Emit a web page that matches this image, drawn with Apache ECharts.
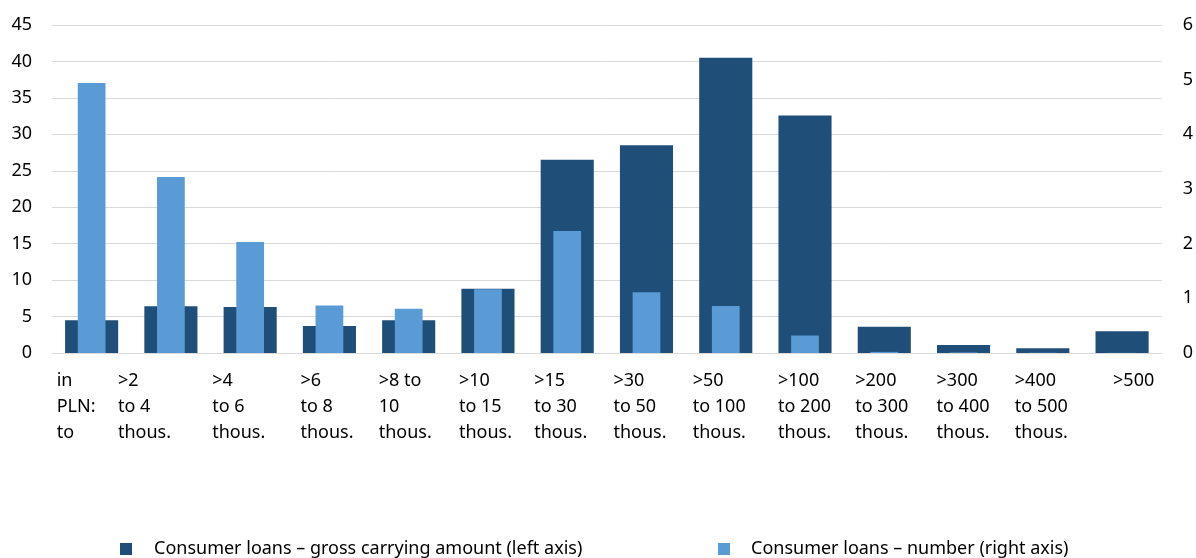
<!DOCTYPE html>
<html>
<head>
<meta charset="utf-8">
<script src="https://cdn.jsdelivr.net/npm/echarts@6/dist/echarts.min.js"></script>
<style>html,body{margin:0;padding:0;background:#fff;}#c{width:1196px;height:558px;}</style>
</head>
<body>
<div id="c"></div>
<script>
const categories = ['in\nPLN:\nto', '>2\nto 4\nthous.', '>4\nto 6\nthous.', '>6\nto 8\nthous.', '>8 to\n10\nthous.',
  '>10\nto 15\nthous.', '>15\nto 30\nthous.', '>30\nto 50\nthous.', '>50\nto 100\nthous.', '>100\nto 200\nthous.',
  '>200\nto 300\nthous.', '>300\nto 400\nthous.', '>400\nto 500\nthous.', '>500'];
const grossAmount = [4.5, 6.4, 6.3, 3.7, 4.5, 8.8, 26.5, 28.5, 40.5, 32.6, 3.6, 1.1, 0.65, 3.0];
const loanNumber = [4.94, 3.22, 2.03, 0.87, 0.81, 1.165, 2.23, 1.11, 0.86, 0.32, 0.02, 0.01, 0.005, 0.003];
const leftTicks = {min: 0, max: 45, interval: 5};
const rightTicks = {min: 0, max: 6, interval: 1};
const seriesNames = ['Consumer loans \u2013 gross carrying amount (left axis)', 'Consumer loans \u2013 number (right axis)'];

// layout: label left edge offset from category centre (px)
const labelShift = [35, 53, 38, 29, 30, 29, 33, 33, 33, 27, 29, 27, 28, 9];
const FONT = '"Noto Sans", sans-serif';
const FS = 18;
const rich = {};
labelShift.forEach((s, i) => {
  rich['c' + i] = {width: 2 * s, align: 'left', fontSize: FS, lineHeight: 26, color: '#000', fontFamily: FONT};
});

const chart = echarts.init(document.getElementById('c'));
chart.setOption({
  animation: false,
  textStyle: {fontFamily: FONT},
  grid: {left: 52, right: 33, top: 25, bottom: 205, containLabel: false},
  legend: [
    {data: [seriesNames[0]], left: 120, top: 540, itemWidth: 12, itemHeight: 12, icon: 'rect', padding: 0,
     textStyle: {fontSize: FS, color: '#000', padding: [0, 0, 0, 17], fontFamily: FONT}},
    {data: [seriesNames[1]], left: 718, top: 540, itemWidth: 12, itemHeight: 12, icon: 'rect', padding: 0,
     textStyle: {fontSize: FS, color: '#000', padding: [0, 0, 0, 16], fontFamily: FONT}}
  ],
  xAxis: [
    {type: 'category', data: categories, axisTick: {show: false}, axisLine: {show: false},
     axisLabel: {interval: 0, margin: 15, align: 'center', verticalAlign: 'top',
       formatter: (v, i) => '{c' + i + '|' + v + '}', rich: rich}},
    {type: 'category', data: categories, show: false}
  ],
  yAxis: [
    {type: 'value', min: leftTicks.min, max: leftTicks.max, interval: leftTicks.interval, position: 'left',
     axisLine: {show: false}, axisTick: {show: false},
     axisLabel: {fontSize: FS, color: '#000', margin: 20, fontFamily: FONT},
     splitLine: {lineStyle: {color: '#d9d9d9', width: 1}}},
    {type: 'value', min: rightTicks.min, max: rightTicks.max, interval: rightTicks.interval, position: 'right',
     axisLine: {show: false}, axisTick: {show: false},
     axisLabel: {fontSize: FS, color: '#000', margin: 21, fontFamily: FONT},
     splitLine: {show: false}}
  ],
  series: [
    {name: seriesNames[0], type: 'bar', xAxisIndex: 0, yAxisIndex: 0, data: grossAmount,
     barWidth: '67%', itemStyle: {color: '#1F4E79'}},
    {name: seriesNames[1], type: 'bar', xAxisIndex: 1, yAxisIndex: 1, data: loanNumber,
     barWidth: '35%', itemStyle: {color: '#5B9BD5'}}
  ]
});
</script>
</body>
</html>
